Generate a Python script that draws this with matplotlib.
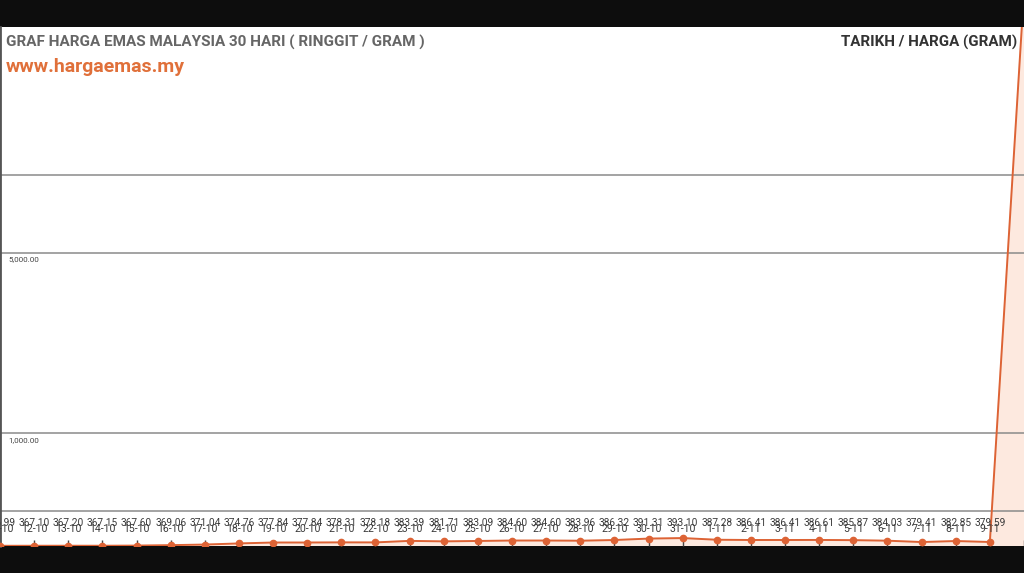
import matplotlib
matplotlib.use("Agg")
import matplotlib.pyplot as plt
import matplotlib.transforms as mtransforms
import numpy as np

dates = ["11-10", "12-10", "13-10", "14-10", "15-10", "16-10", "17-10", "18-10",
         "19-10", "20-10", "21-10", "22-10", "23-10", "24-10", "25-10", "26-10",
         "27-10", "28-10", "29-10", "30-10", "31-10", "1-11", "2-11", "3-11",
         "4-11", "5-11", "6-11", "7-11", "8-11", "9-11", "10-11"]
prices = [366.99, 367.10, 367.20, 367.15, 367.60, 369.06, 371.04, 374.76,
          377.84, 377.84, 378.31, 378.18, 383.39, 381.71, 383.09, 384.60,
          384.60, 383.96, 386.32, 391.31, 393.10, 387.28, 386.41, 386.41,
          386.61, 385.87, 384.03, 379.41, 382.85, 379.59, 51000.0]
grid_values = [500, 1000, 5000, 10000]
grid_labels = {1000: "1,000.00", 5000: "5,000.00"}

W, H = 1024, 573
fig = plt.figure(figsize=(W / 100, H / 100), dpi=100, facecolor="#0d0d0d")
top_px, bot_px = 27, 546
ax = fig.add_axes([0, (H - bot_px) / H, 1.0, (bot_px - top_px) / H])
ax.set_facecolor("white")

x = np.arange(len(prices))
line_color = "#dd6335"
ax.fill_between(x, prices, 1, color="#fde9df", zorder=1)
ax.plot(x, prices, color=line_color, lw=1.4, zorder=3)
ax.plot(x[:-1], prices[:-1], "o", color=line_color, ms=4.5, zorder=4)

ax.set_yscale("log")
ax.set_ylim(366.3, 37270)
ax.set_xlim(0, 1024 / 34.14)

ax.set_yticks(grid_values)
ax.yaxis.set_minor_locator(matplotlib.ticker.NullLocator())
ax.tick_params(axis="y", length=0, labelleft=False)
ax.grid(axis="y", color="#8a8a8a", lw=1.1, zorder=0)
ax.set_xticks(x)
ax.tick_params(axis="x", direction="in", length=4.5, color="#444444", width=1,
               labelbottom=False)

for s in ["top", "right", "bottom"]:
    ax.spines[s].set_visible(False)
ax.spines["left"].set_color("#555555")
ax.spines["left"].set_linewidth(2.0)

trans = mtransforms.blended_transform_factory(ax.transData, ax.transAxes)
for xi, p, d in zip(x, prices, dates):
    if xi == len(prices) - 1:
        continue
    ax.text(xi, (bot_px - 523.5) / (bot_px - top_px), f"{p:.2f}", transform=trans,
            ha="center", va="center", fontsize=7.3, family="Roboto",
            color="#3a3a3a", zorder=5)
    ax.text(xi, (bot_px - 529.5) / (bot_px - top_px), d, transform=trans,
            ha="center", va="center", fontsize=7.6, family="Roboto",
            color="#3a3a3a", zorder=5)

ytrans = mtransforms.blended_transform_factory(ax.transAxes, ax.transData)
for v, lab in grid_labels.items():
    ax.annotate(lab, xy=(8 / W, v), xycoords=ytrans, xytext=(0, -7 * 0.72),
                textcoords="offset points", ha="left", va="center",
                fontsize=5.8, family="Roboto", color="#444444")

fig.text(6 / W, 1 - 42 / H, "GRAF HARGA EMAS MALAYSIA 30 HARI ( RINGGIT / GRAM )",
         ha="left", va="center", fontsize=11, family="Roboto",
         fontweight="bold", color="#666666")
fig.text(6 / W, 1 - 67.5 / H, "www.hargaemas.my", ha="left", va="center",
         fontsize=14, family="Roboto", fontweight="bold", color="#e0703a")
fig.text(1017 / W, 1 - 42 / H, "TARIKH / HARGA (GRAM)", ha="right", va="center",
         fontsize=10.9, family="Roboto", fontweight="bold", color="#333333")

fig.savefig("out.png", dpi=100, facecolor=fig.get_facecolor())
